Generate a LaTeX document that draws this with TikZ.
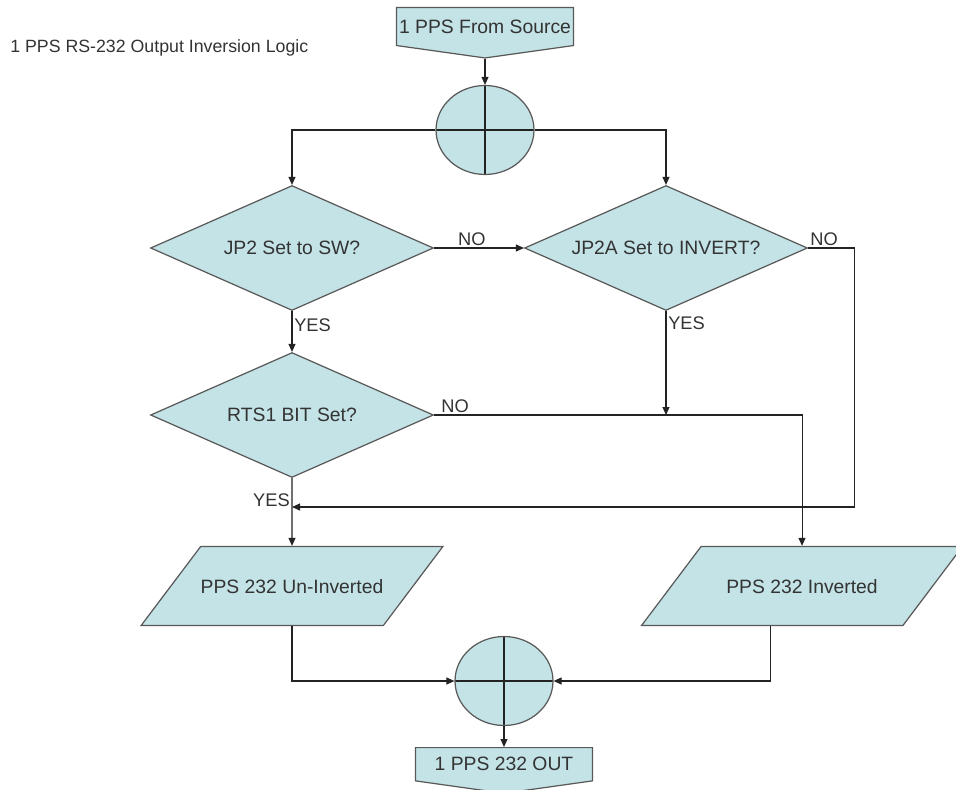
\documentclass[tikz,border=0pt]{standalone}
\usepackage{fontspec}
\setmainfont{Liberation Sans}
\usetikzlibrary{shapes.geometric,shapes.symbols,arrows.meta}
\definecolor{boxfill}{RGB}{196,227,231}
\definecolor{lineclr}{RGB}{35,35,35}

\begin{document}
\begin{tikzpicture}[x=0.02cm, y=-0.02cm,
    font=\fontsize{11}{13}\selectfont, text=black!80,
    shapebox/.style={draw=black!65, fill=boxfill, line width=0.7pt, inner sep=0pt},
    decision/.style={shapebox, diamond, aspect=2.26, minimum width=5.66cm, minimum height=2.5cm},
    iobox/.style={shapebox, trapezium, trapezium left angle=53, trapezium right angle=127,
        trapezium stretches body=true, text height=8pt, text depth=0pt, inner ysep=0.65cm},
    junction/.style={shapebox, ellipse, minimum width=1.96cm, minimum height=1.78cm,
        path picture={\draw[lineclr, line width=0.6pt]
            (path picture bounding box.north) -- (path picture bounding box.south)
            (path picture bounding box.west) -- (path picture bounding box.east);}},
    offpage/.style={shapebox, signal, signal to=south, signal pointer angle=164,
        minimum width=3.54cm, anchor=north},
    flow/.style={draw=lineclr, line width=0.6pt, -{Triangle[length=1.6mm,width=1.4mm]}},
    lbl/.style={inner sep=1pt, font=\fontsize{10.4}{12}\selectfont}]
    \useasboundingbox (0,0) rectangle (956,790);

    % shapes
    \node[anchor=west, inner sep=0pt, font=\fontsize{10.1}{12}\selectfont] (title) at (10,48) {1 PPS RS-232 Output Inversion Logic};
    \node[offpage, minimum height=1.0cm] (src) at (485,7) {1 PPS From Source};
    \node[junction] (sumA) at (485,130) {};
    \node[decision] (jp2) at (292,248) {JP2 Set to SW?};
    \node[decision] (jp2a) at (666,248) {JP2A Set to INVERT?};
    \node[decision] (rts) at (292,415) {RTS1 BIT Set?};
    \node[iobox, minimum width=5.74cm] (plain) at (292,586) {PPS 232 Un-Inverted};
    \node[iobox, minimum width=6.42cm] (inv) at (802,586) {PPS 232 Inverted};
    \node[junction] (sumB) at (504,681) {};
    \node[offpage, minimum height=0.86cm] (out) at (504,747) {1 PPS 232 OUT};
    \coordinate (merge) at (292,507);

    % connectors
    \draw[flow] (src.south) -- (sumA.north);
    \draw[flow] (sumA.west) -| (jp2.north);
    \draw[flow] (sumA.east) -| (jp2a.north);
    \draw[flow] (jp2.east) -- (jp2a.west) node[lbl, pos=0.42, anchor=south] {NO};
    \draw[flow] (jp2.south) -- (rts.north) node[lbl, pos=0.12, anchor=north west] {YES};
    \draw[flow] (jp2a.south) -- (jp2a.south |- rts.east) node[lbl, pos=0.03, anchor=north west] {YES};
    \draw[flow] (jp2a.east) node[lbl, anchor=south west] {NO} -- ++(46,0) |- (merge);
    \draw[flow] (rts.east) node[lbl, anchor=south west, xshift=0.1cm] {NO} -| (inv.north);
    \draw[flow] (rts.south) -- (plain.north) node[lbl, pos=0.33, anchor=east] {YES};
    \draw[flow] (plain.south) |- (sumB.west);
    \draw[flow] ([xshift=-0.64cm]inv.south) |- (sumB.east);
    \draw[flow] (sumB.south) -- (out.north);
\end{tikzpicture}
\end{document}
